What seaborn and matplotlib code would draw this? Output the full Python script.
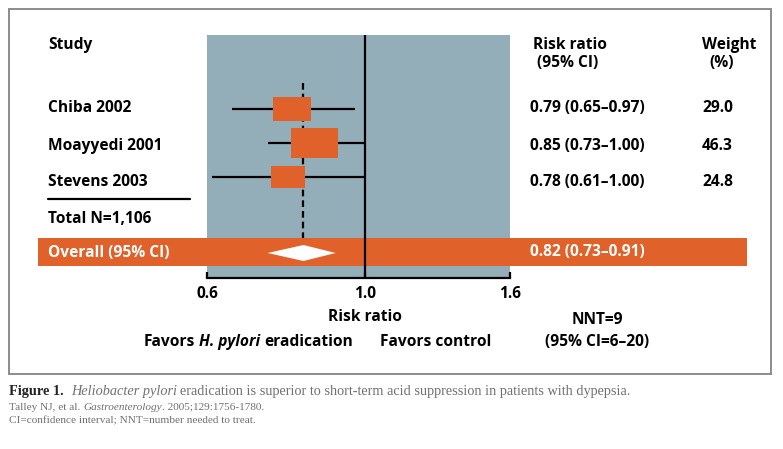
import numpy as np
import matplotlib
matplotlib.use("Agg")
import matplotlib.pyplot as plt
import seaborn as sns
from matplotlib.path import Path
from matplotlib.patches import Rectangle, Polygon
from matplotlib.lines import Line2D
from matplotlib.ticker import NullLocator
from matplotlib.transforms import blended_transform_factory

# ---------------- data ----------------
studies = ["Chiba 2002", "Moayyedi 2001", "Stevens 2003"]
rr = [0.79, 0.85, 0.78]
ci_low = [0.65, 0.73, 0.61]
ci_high = [0.97, 1.00, 1.00]
weights = [29.0, 46.3, 24.8]
overall_rr = 0.82
overall_low = 0.73
overall_high = 0.91
total_n = "1,106"
x_ticks = [0.6, 1.0, 1.6]
x_tick_labels = ["0.6", "1.0", "1.6"]
nnt = 9
nnt_ci = (6, 20)

# ---------------- setup ----------------
W, H = 783, 449
sns.set_theme(style="white")
SANS = ["Open Sans", "DejaVu Sans"]
SERIF = ["Liberation Serif", "DejaVu Serif"]
plt.rcParams["font.family"] = SANS

fig = plt.figure(figsize=(W / 100, H / 100), dpi=100)
fig.patch.set_facecolor("white")


def fx(px):
    return px / W


def fy(py):
    return 1 - py / H


BLUE = "#94aeb9"
ORANGE = "#e0612a"
FS = 11.2
BOLD = dict(fontsize=FS, fontweight="bold", color="black")

# forest plot axes (blue panel)
ax = fig.add_axes([fx(207), fy(278), (510 - 207) / W, (278 - 35) / H])
ax.set_facecolor(BLUE)
ax.set_xscale("log")
ax.set_xlim(0.6, 1.6)
ax.set_ylim(278, 35)

mark_y = [109, 143, 177]
overall_y = 253

# orange overall band (extends beyond the panel)
band_tr = blended_transform_factory(ax.transAxes, ax.transData)
ax.add_patch(Rectangle(((38 - 207) / 303, 238), (747 - 38) / 303, 28,
                       transform=band_tr, clip_on=False, facecolor=ORANGE,
                       edgecolor="none", zorder=1))

# confidence interval lines
ax.hlines(mark_y, ci_low, ci_high, colors="black", lw=1.6, zorder=2)

# boxes sized by weight
rect = Path([(-1, -0.65), (1, -0.65), (1, 0.65), (-1, 0.65), (-1, -0.65)],
            [Path.MOVETO, Path.LINETO, Path.LINETO, Path.LINETO, Path.CLOSEPOLY])
sns.scatterplot(x=rr, y=mark_y, size=weights,
                sizes={w: 25 * w for w in weights},
                marker=rect, color=ORANGE, linewidth=0, legend=False,
                ax=ax, zorder=3)

# dashed overall line
ax.vlines(overall_rr, 83, 238, colors="black", lw=1.6,
          linestyles=(0, (3, 1.8)), zorder=2)
# null line
ax.axvline(1.0, color="black", lw=1.6, zorder=4)
# diamond
ax.add_patch(Polygon([(overall_low, overall_y), (overall_rr, overall_y - 8),
                      (overall_high, overall_y), (overall_rr, overall_y + 8)],
                     closed=True, facecolor="white", edgecolor="none", zorder=5))

for s in ["top", "right", "left"]:
    ax.spines[s].set_visible(False)
ax.spines["bottom"].set_color("black")
ax.spines["bottom"].set_linewidth(1.6)
ax.set_xticks(x_ticks)
ax.set_xticklabels(x_tick_labels, fontweight="bold", fontsize=FS)
ax.xaxis.set_minor_locator(NullLocator())
ax.tick_params(axis="x", bottom=True, direction="in", length=4, width=1.6,
               color="black", pad=6, labelcolor="black")
ax.set_yticks([])
ax.set_xlabel("")
ax.set_ylabel("")

# ---------------- texts ----------------
renderer = fig.canvas.get_renderer()


def twidth(s, kw):
    t = fig.text(0, 0, s, **kw)
    w = t.get_window_extent(renderer).width
    t.remove()
    return w


def seq(x_px, y_px, parts, ha="left"):
    """parts: list of (string, kw, space_after)"""
    widths = []
    gaps = []
    for s, kw, sp in parts:
        widths.append(twidth(s, kw))
        gaps.append((twidth("a a", kw) - twidth("aa", kw)) * sp)
    total = sum(widths) + sum(gaps[:-1])
    x = x_px if ha == "left" else x_px - total / 2
    for (s, kw, sp), w, g in zip(parts, widths, gaps):
        fig.text(fx(x), fy(y_px), s, ha="left", va="center", **kw)
        x += w + g


def txt(x, y, s, ha="left", **kw):
    k = dict(BOLD)
    k.update(kw)
    fig.text(fx(x), fy(y), s, ha=ha, va="center", **k)


txt(48, 45, "Study")
txt(570, 45, "Risk ratio", ha="center")
txt(568, 63, "(95% CI)", ha="center")
txt(729, 45, "Weight", ha="center")
txt(722, 63, "(%)", ha="center")

text_y = [108, 146, 182]
for name, r, lo, hi, w, y in zip(studies, rr, ci_low, ci_high, weights, text_y):
    txt(48, y, name)
    txt(587, y, f"{r:.2f} ({lo:.2f}\u2013{hi:.2f})", ha="center")
    txt(717.5, y, f"{w:.1f}", ha="center")

fig.add_artist(Line2D([fx(48), fx(190)], [fy(199), fy(199)], color="black", lw=1.6))
txt(48, 219, f"Total N={total_n}")
txt(48, 253, "Overall (95% CI)", color="white")
txt(587, 252, f"{overall_rr:.2f} ({overall_low:.2f}\u2013{overall_high:.2f})",
    ha="center", color="white")

txt(365, 317, "Risk ratio", ha="center")
seq(248, 342, [("Favors", BOLD, 1),
               ("H. pylori", dict(BOLD, fontstyle="italic"), 1),
               ("eradication", BOLD, 0)], ha="center")
txt(436, 342, "Favors control", ha="center")
txt(597, 320, f"NNT={nnt}", ha="center")
txt(597, 342, f"(95% CI={nnt_ci[0]}\u2013{nnt_ci[1]})", ha="center")

# border box
fig.add_artist(Rectangle((fx(8.5), fy(374)), (771 - 8.5) / W, (374 - 9) / H,
                         transform=fig.transFigure, fill=False,
                         edgecolor="#8c8c8c", lw=1.4))

# caption
GRAY = "#707070"
cap = dict(fontsize=10.25, color=GRAY, family=SERIF)
seq(9, 392, [("Figure 1.", dict(cap, color="#222222", fontweight="bold"), 2),
             ("Heliobacter pylori", dict(cap, fontstyle="italic"), 1),
             ("eradication is superior to short-term acid suppression in patients with dypepsia.", cap, 0)])
small = dict(fontsize=8.1, color=GRAY, family=SERIF)
seq(9, 407, [("Talley NJ, et al.", small, 1),
             ("Gastroenterology", dict(small, fontstyle="italic"), 0),
             (". 2005;129:1756-1780.", small, 0)])
seq(9, 421, [("CI=confidence interval; NNT=number needed to treat.", small, 0)])

fig.savefig("out.png", dpi=100)
